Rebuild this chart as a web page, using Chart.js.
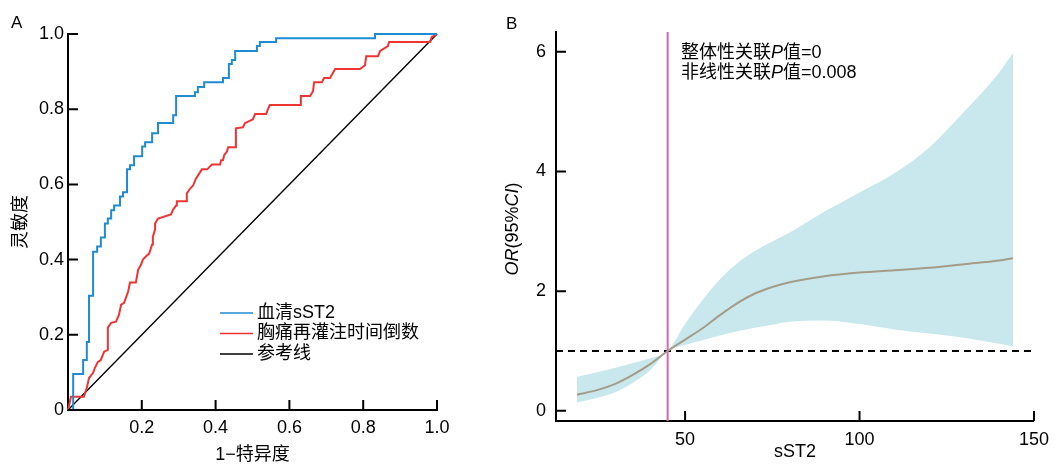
<!DOCTYPE html>
<html>
<head>
<meta charset="utf-8">
<script src="https://cdn.jsdelivr.net/npm/chart.js@4.4.1/dist/chart.umd.min.js"></script>
<style>
  html, body { margin: 0; padding: 0; background: #fff; }
  #wrap { position: relative; width: 1057px; height: 468px; }
  #rocChart { position: absolute; left: 0; top: 0; }
  #splineChart { position: absolute; left: 500px; top: 0; }
</style>
</head>
<body>
<div id="wrap">
  <canvas id="rocChart" width="500" height="468"></canvas>
  <canvas id="splineChart" width="557" height="468"></canvas>
</div>
<script>
// panel A - ROC curves (1-specificity, sensitivity)
const SST2_FPR = [0, 0.014, 0.041, 0.051, 0.057, 0.068, 0.079, 0.089, 0.100, 0.108, 0.117, 0.125, 0.141, 0.149, 0.160, 0.168, 0.179, 0.201, 0.209, 0.228, 0.244, 0.285, 0.293, 0.344, 0.352, 0.369, 0.420, 0.436, 0.444, 0.453, 0.512, 0.520, 0.564, 0.832, 1];
const SST2_TPR = [0, 0.096, 0.133, 0.181, 0.304, 0.421, 0.435, 0.459, 0.496, 0.509, 0.531, 0.544, 0.568, 0.579, 0.640, 0.651, 0.675, 0.701, 0.712, 0.736, 0.763, 0.784, 0.835, 0.845, 0.859, 0.872, 0.883, 0.920, 0.931, 0.955, 0.968, 0.979, 0.989, 1, 1];
const CHEST_FPR = [0, 0.008, 0.043, 0.051, 0.057, 0.068, 0.073, 0.081, 0.089, 0.098, 0.108, 0.108, 0.117, 0.130, 0.138, 0.144, 0.152, 0.163, 0.168, 0.184, 0.190, 0.198, 0.203, 0.211, 0.220, 0.228, 0.230, 0.236, 0.236, 0.244, 0.279, 0.285, 0.293, 0.295, 0.320, 0.322, 0.331, 0.339, 0.347, 0.363, 0.377, 0.390, 0.412, 0.415, 0.420, 0.423, 0.431, 0.434, 0.453, 0.455, 0.474, 0.480, 0.501, 0.507, 0.537, 0.542, 0.547, 0.629, 0.631, 0.656, 0.664, 0.667, 0.688, 0.694, 0.710, 0.724, 0.791, 0.805, 0.808, 0.840, 0.846, 0.867, 0.870, 0.981, 0.986, 0.992, 1];
const CHEST_TPR = [0, 0.035, 0.035, 0.059, 0.085, 0.099, 0.112, 0.128, 0.133, 0.155, 0.160, 0.219, 0.232, 0.235, 0.253, 0.280, 0.285, 0.315, 0.339, 0.339, 0.373, 0.387, 0.400, 0.408, 0.416, 0.440, 0.461, 0.480, 0.496, 0.509, 0.520, 0.533, 0.544, 0.555, 0.555, 0.576, 0.589, 0.597, 0.616, 0.640, 0.640, 0.653, 0.653, 0.664, 0.664, 0.677, 0.688, 0.699, 0.699, 0.749, 0.752, 0.763, 0.773, 0.787, 0.787, 0.800, 0.811, 0.811, 0.835, 0.835, 0.848, 0.872, 0.872, 0.883, 0.883, 0.907, 0.907, 0.917, 0.941, 0.941, 0.955, 0.968, 0.979, 0.979, 0.992, 0.995, 1];
const REF_LINE = [0, 1];
const ROC_LABELS = ['血清sST2', '胸痛再灌注时间倒数', '参考线'];
const ROC_X_TICKS = [0.2, 0.4, 0.6, 0.8, 1.0];
const ROC_Y_TICKS = [0, 0.2, 0.4, 0.6, 0.8, 1.0];
const ROC_Y_TICK_LABELS = ['0', '0.2', '0.4', '0.6', '0.8', '1.0'];

// panel B - restricted cubic spline, OR with 95% CI
const SST2_X = [19, 25, 30, 35, 40, 45, 50, 55, 60, 65, 70, 75, 80, 90, 100, 110, 120, 130, 140, 144];
const OR_MID = [0.27, 0.35, 0.45, 0.6, 0.78, 1.0, 1.19, 1.38, 1.6, 1.8, 1.96, 2.07, 2.15, 2.25, 2.31, 2.35, 2.39, 2.45, 2.51, 2.55];
const OR_HIGH = [0.57, 0.65, 0.72, 0.8, 0.88, 1.0, 1.45, 1.85, 2.2, 2.47, 2.67, 2.83, 2.98, 3.33, 3.65, 3.97, 4.4, 5.0, 5.65, 5.98];
const OR_LOW = [0.14, 0.22, 0.31, 0.47, 0.68, 1.0, 1.1, 1.18, 1.26, 1.33, 1.39, 1.44, 1.49, 1.51, 1.45, 1.36, 1.29, 1.22, 1.12, 1.08];
const SST2_REF = 45;
const OR_REF = 1;
const SPLINE_X_RANGE = [13, 150];
const SPLINE_Y_RANGE = [-0.17, 6.33];
const SPLINE_X_TICKS = [50, 100, 150];
const SPLINE_Y_TICKS = [0, 2, 4, 6];

const FONT = '"Liberation Sans", "Noto Sans CJK SC", Arial, sans-serif';
Chart.defaults.font.family = FONT;
Chart.defaults.font.size = 18;
Chart.defaults.color = '#000';

function pairs(xs, ys) {
  return xs.map((x, i) => ({ x: x, y: ys[i] }));
}

// tick marks drawn inside the plot area, like the original figure
const inwardTicks = {
  id: 'inwardTicks',
  afterDraw(chart, args, opts) {
    const { ctx, chartArea, scales } = chart;
    ctx.save();
    ctx.strokeStyle = '#000';
    ctx.lineWidth = 2;
    ctx.beginPath();
    opts.x.forEach(v => {
      const px = scales.x.getPixelForValue(v);
      ctx.moveTo(px, chartArea.bottom);
      ctx.lineTo(px, chartArea.bottom - opts.len);
    });
    opts.y.forEach(v => {
      const py = scales.y.getPixelForValue(v);
      ctx.moveTo(chartArea.left, py);
      ctx.lineTo(chartArea.left + opts.len, py);
    });
    ctx.stroke();
    ctx.restore();
  }
};

function richText(ctx, parts, x, y) {
  let cx = x;
  parts.forEach(([t, italic]) => {
    ctx.font = (italic ? 'italic ' : '') + '18px ' + FONT;
    ctx.fillText(t, cx, y);
    cx += ctx.measureText(t).width;
  });
}
function richWidth(ctx, parts) {
  let w = 0;
  parts.forEach(([t, italic]) => {
    ctx.font = (italic ? 'italic ' : '') + '18px ' + FONT;
    w += ctx.measureText(t).width;
  });
  return w;
}

const rocExtras = {
  id: 'rocExtras',
  afterDraw(chart) {
    const ctx = chart.ctx;
    ctx.save();
    ctx.fillStyle = '#000';
    ctx.textBaseline = 'middle';
    ctx.font = '17px ' + FONT;
    ctx.fillText('A', 11, 23);
    chart.data.datasets.forEach((ds, i) => {
      const y = 313 + i * 20.5;
      ctx.strokeStyle = ds.borderColor;
      ctx.lineWidth = 1.5;
      ctx.beginPath();
      ctx.moveTo(220, y);
      ctx.lineTo(253, y);
      ctx.stroke();
      ctx.font = '18px ' + FONT;
      ctx.fillText(ds.label, 257, y);
    });
    ctx.restore();
  }
};

new Chart(document.getElementById('rocChart'), {
  type: 'line',
  data: {
    datasets: [{
      label: ROC_LABELS[0],
      data: pairs(SST2_FPR, SST2_TPR),
      borderColor: '#1f8bd2',
      borderWidth: 2,
      stepped: 'before',
      pointRadius: 0,
      clip: false
    }, {
      label: ROC_LABELS[1],
      data: pairs(CHEST_FPR, CHEST_TPR),
      borderColor: '#f03434',
      borderWidth: 2,
      pointRadius: 0,
      clip: false
    }, {
      label: ROC_LABELS[2],
      data: pairs(REF_LINE, REF_LINE),
      borderColor: '#000',
      borderWidth: 1.4,
      pointRadius: 0,
      clip: false
    }]
  },
  options: {
    responsive: false,
    animation: false,
    layout: { padding: { left: 0, top: 34, right: 63, bottom: 0 } },
    plugins: {
      legend: { display: false },
      tooltip: { enabled: false },
      inwardTicks: { x: ROC_X_TICKS, y: ROC_Y_TICKS, len: 10 }
    },
    scales: {
      x: {
        type: 'linear', min: 0, max: 1,
        grid: { display: false, drawTicks: false },
        border: { display: true, color: '#000', width: 2 },
        afterBuildTicks: s => { s.ticks = ROC_X_TICKS.map(v => ({ value: v })); },
        afterFit: s => { s.height = 58; },
        ticks: { padding: 7, maxRotation: 0, callback: v => v.toFixed(1) },
        title: { display: true, text: '1−特异度', font: { size: 18 }, padding: { top: 0, bottom: 2 } }
      },
      y: {
        type: 'linear', min: 0, max: 1,
        grid: { display: false, drawTicks: false },
        border: { display: true, color: '#000', width: 2 },
        afterBuildTicks: s => { s.ticks = ROC_Y_TICKS.map(v => ({ value: v })); },
        afterFit: s => { s.width = 68; },
        ticks: { padding: 4, callback: (v, i) => ROC_Y_TICK_LABELS[i] },
        title: { display: true, text: '灵敏度', font: { size: 18 }, padding: { top: 10, bottom: 0 } }
      }
    }
  },
  plugins: [inwardTicks, rocExtras]
});

const splineExtras = {
  id: 'splineExtras',
  afterDraw(chart) {
    const ctx = chart.ctx;
    ctx.save();
    ctx.fillStyle = '#000';
    ctx.textBaseline = 'middle';
    ctx.font = '17px ' + FONT;
    ctx.fillText('B', 6, 24);
    richText(ctx, [['整体性关联'], ['P', true], ['值=0']], 181, 53);
    richText(ctx, [['非线性关联'], ['P', true], ['值=0.008']], 181, 73);
    const yTitle = [['OR', true], ['(95%'], ['CI', true], [')']];
    ctx.translate(13, 229);
    ctx.rotate(-Math.PI / 2);
    richText(ctx, yTitle, -richWidth(ctx, yTitle) / 2, 0);
    ctx.restore();
  }
};

new Chart(document.getElementById('splineChart'), {
  type: 'line',
  data: {
    datasets: [{
      data: pairs(SST2_X, OR_MID),
      borderColor: '#a59c88',
      borderWidth: 2,
      pointRadius: 0,
      cubicInterpolationMode: 'monotone'
    }, {
      data: [{ x: SST2_REF, y: SPLINE_Y_RANGE[0] }, { x: SST2_REF, y: SPLINE_Y_RANGE[1] }],
      borderColor: '#d865b2',
      borderWidth: 2,
      pointRadius: 0,
      clip: false
    }, {
      data: [{ x: SPLINE_X_RANGE[0], y: OR_REF }, { x: SPLINE_X_RANGE[1], y: OR_REF }],
      borderColor: '#000',
      borderWidth: 1.8,
      borderDash: [7, 5],
      pointRadius: 0,
      clip: false
    }, {
      data: pairs(SST2_X, OR_HIGH),
      borderWidth: 0,
      borderColor: 'rgba(0,0,0,0)',
      backgroundColor: '#c9e8ee',
      fill: '+1',
      pointRadius: 0,
      cubicInterpolationMode: 'monotone'
    }, {
      data: pairs(SST2_X, OR_LOW),
      borderWidth: 0,
      borderColor: 'rgba(0,0,0,0)',
      pointRadius: 0,
      cubicInterpolationMode: 'monotone'
    }]
  },
  options: {
    responsive: false,
    animation: false,
    layout: { padding: { left: 0, top: 32, right: 16, bottom: 0 } },
    plugins: {
      legend: { display: false },
      tooltip: { enabled: false },
      inwardTicks: { x: SPLINE_X_TICKS, y: SPLINE_Y_TICKS, len: 10 }
    },
    scales: {
      x: {
        type: 'linear', min: SPLINE_X_RANGE[0], max: SPLINE_X_RANGE[1],
        grid: { display: false, drawTicks: false },
        border: { display: true, color: '#000', width: 2 },
        afterBuildTicks: s => { s.ticks = SPLINE_X_TICKS.map(v => ({ value: v })); },
        afterFit: s => { s.height = 47; },
        ticks: { padding: 8, maxRotation: 0 },
        title: { display: true, text: 'sST2', font: { size: 18 }, padding: { top: 0, bottom: 5 } }
      },
      y: {
        type: 'linear', min: SPLINE_Y_RANGE[0], max: SPLINE_Y_RANGE[1],
        grid: { display: false, drawTicks: false },
        border: { display: true, color: '#000', width: 2 },
        afterBuildTicks: s => { s.ticks = SPLINE_Y_TICKS.map(v => ({ value: v })); },
        afterFit: s => { s.width = 56; },
        ticks: { padding: 10 }
      }
    }
  },
  plugins: [inwardTicks, splineExtras]
});
</script>
</body>
</html>
